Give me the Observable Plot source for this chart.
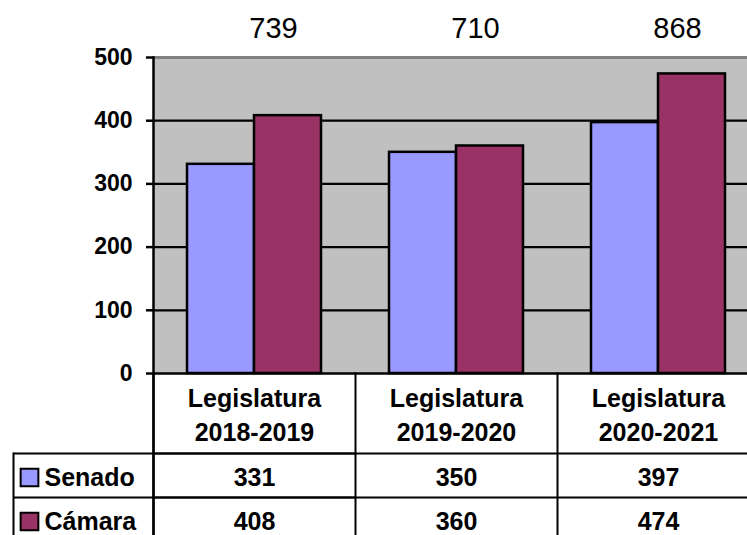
<!DOCTYPE html>
<html>
<head>
<meta charset="utf-8">
<script src="https://cdn.jsdelivr.net/npm/d3@7"></script>
<script src="https://cdn.jsdelivr.net/npm/@observablehq/plot@0.6"></script>
<style>
  html, body { margin: 0; padding: 0; background: white; overflow: hidden; }
  #chart svg { display: block; }
</style>
</head>
<body>
<div id="chart"></div>
<script>
// ---- data ----
const categories = ["Legislatura\n2018-2019", "Legislatura\n2019-2020", "Legislatura\n2020-2021"];
const seriesNames = ["Senado", "Cámara"];
const senado = [331, 350, 397];
const camara = [408, 360, 474];
const totals = [739, 710, 868];
const yTicks = [0, 100, 200, 300, 400, 500];
const colors = ["#9999FF", "#993366"];

// ---- tables built from the arrays ----
const seriesValues = {"Senado": senado, "Cámara": camara};
const bars = categories.flatMap((c, i) => seriesNames.map(s => ({cat: c, series: s, value: seriesValues[s][i]})));
const totalRows = categories.map((c, i) => ({cat: c, total: totals[i]}));

// ---- layout ----
const W = 747, H = 535;
const TOP = 57, ZERO = 373, LEFT = 153, COL = 202;
const HEADER = 80, ROW = 44;
const first = categories[0];
const font = "'Liberation Sans', Arial, sans-serif";
const yMax = yTicks[yTicks.length - 1];

const seriesMarks = seriesNames.flatMap((s, i) => {
  const rowMid = HEADER + ROW * i + ROW / 2 + 2;
  return [
    Plot.text(bars.filter(d => d.series === s), {
      fx: "cat", y: () => 0, text: "value", dy: rowMid,
      fontSize: 25, fontWeight: "bold", fill: "black"
    }),
    Plot.dot([s], {
      fx: () => first, y: () => 0, frameAnchor: "left", dx: -124, dy: rowMid,
      symbol: "square", r: 10, fill: d => d, stroke: "black", strokeWidth: 2
    }),
    Plot.text([s], {
      fx: () => first, y: () => 0, frameAnchor: "left", dx: -109, dy: rowMid,
      text: d => d, textAnchor: "start", fontSize: 25, fontWeight: "bold", fill: "black"
    })
  ];
});

const rowLines = [HEADER, HEADER + ROW, HEADER + 2 * ROW].flatMap(off => [
  Plot.ruleY([0], {dy: off, stroke: "black", strokeWidth: 2}),
  Plot.ruleY([0], {dy: off, stroke: "black", strokeWidth: 2, insetLeft: -(LEFT - 13), facetAnchor: "left"})
]);

const chart = Plot.plot({
  width: W, height: H,
  marginTop: TOP, marginBottom: 0, marginLeft: LEFT, marginRight: W - LEFT - 3 * COL,
  style: {fontFamily: font, background: "white", color: "black"},
  fx: {domain: categories, padding: 0, axis: null},
  x: {domain: seriesNames, paddingInner: 0, paddingOuter: 0.5, axis: null},
  y: {domain: [0, yMax], range: [ZERO, TOP], axis: null},
  color: {domain: seriesNames, range: colors},
  marks: [
    // plot area
    Plot.rect([yMax], {y1: () => 0, y2: d => d, fill: "#C0C0C0"}),
    Plot.ruleY(yTicks.slice(1, -1), {stroke: "black", strokeWidth: 2.2}),
    Plot.ruleY([yMax], {stroke: "#808080", strokeWidth: 3}),
    // bars
    Plot.barY(bars, {fx: "cat", x: "series", y: "value", fill: "series", stroke: "black", strokeWidth: 2.5}),
    // axis + table lines
    Plot.ruleY([0], {stroke: "black", strokeWidth: 2.5}),
    Plot.frame({anchor: "left", stroke: "black", strokeWidth: 2, insetTop: ZERO - TOP}),
    Plot.frame({anchor: "left", stroke: "black", strokeWidth: 2.5, facetAnchor: "left"}),
    Plot.frame({anchor: "left", stroke: "black", strokeWidth: 2, facetAnchor: "left", insetTop: ZERO - TOP + HEADER, dx: -(LEFT - 13)}),
    ...rowLines,
    Plot.axisY(yTicks, {anchor: "left", tickSize: 7, tickPadding: 14, fontSize: 23, fontWeight: "bold",
      stroke: "black", strokeWidth: 2.5, fill: "black", label: null}),
    // totals
    Plot.text(totalRows, {fx: "cat", text: "total", frameAnchor: "top", lineAnchor: "middle", dx: 19, dy: -29, fontSize: 29, fill: "black"}),
    // category header
    Plot.text(categories, {fx: d => d, y: () => 0, text: d => d, dy: HEADER / 2, lineHeight: 1.35,
      fontSize: 25, fontWeight: "bold", fill: "black"}),
    ...seriesMarks
  ]
});
document.getElementById("chart").appendChild(chart);
</script>
</body>
</html>
